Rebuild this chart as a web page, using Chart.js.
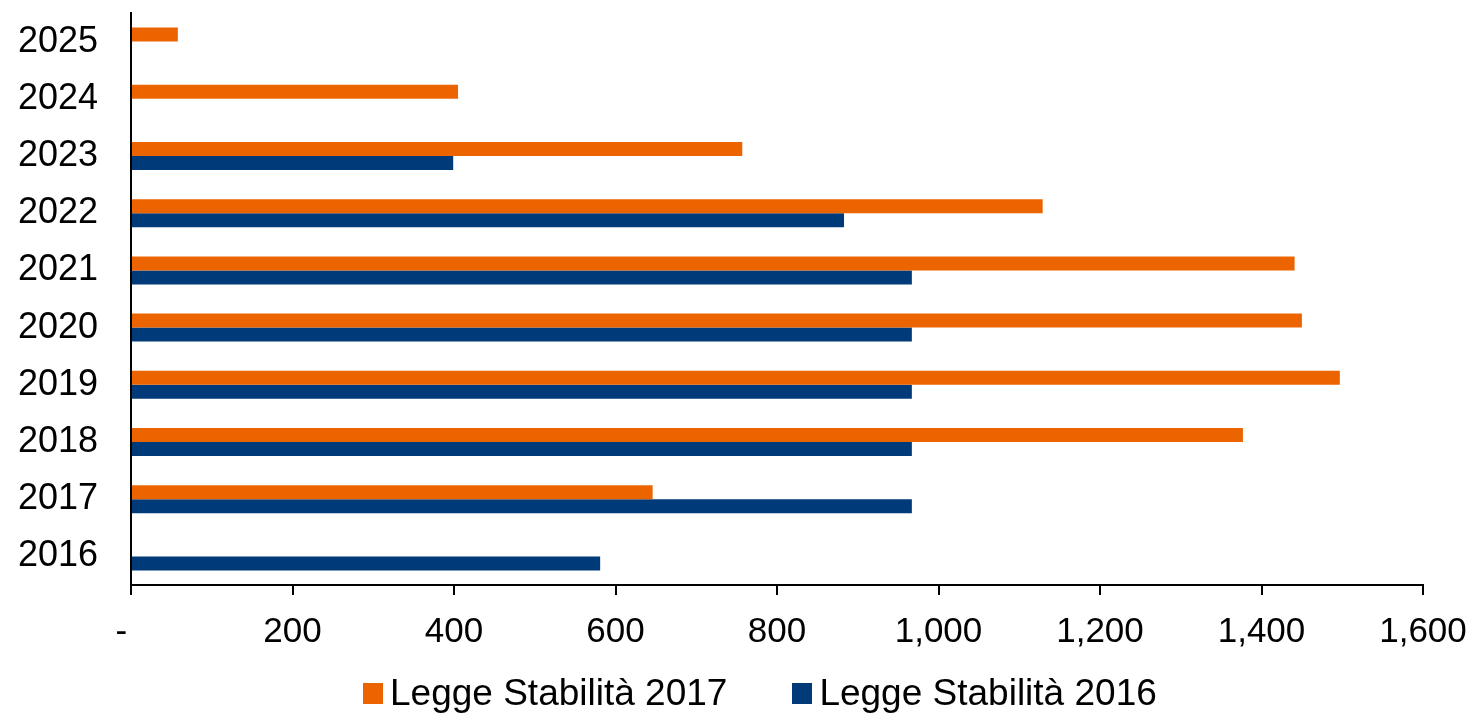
<!DOCTYPE html>
<html lang="it">
<head>
    <meta charset="UTF-8">
    <title>Legge Stabilità 2017 vs 2016</title>
    <script src="https://cdn.jsdelivr.net/npm/chart.js"></script>
    <style>
        html, body { margin: 0; padding: 0; background: #fff; }
        #wrap { position: relative; width: 1474px; height: 715px; }
        #legend {
            position: absolute; left: 363px; top: 672px;
            display: flex; align-items: center;
            font-family: 'Liberation Sans', Arial, sans-serif; font-size: 37px; color: #000;
            line-height: 42px; white-space: nowrap;
        }
        #legend .item { display: flex; align-items: center; margin-right: 65px; }
        #legend .box { width: 20px; height: 21px; margin-right: 7px; }
    </style>
</head>
<body>
    <div id="wrap">
        <canvas id="barChart"></canvas>
        <div id="legend"></div>
    </div>
    <script>
        // data
        const years = ['2025', '2024', '2023', '2022', '2021', '2020', '2019', '2018', '2017', '2016'];
        const legge2017 = [58, 405, 757, 1129, 1441, 1450, 1497, 1377, 646, null];
        const legge2016 = [null, null, 399, 883, 967, 967, 967, 967, 967, 581];
        const xTickLabels = ['-  ', '200', '400', '600', '800', '1,000', '1,200', '1,400', '1,600'];

        const FONT = 'Liberation Sans, Arial, sans-serif';

        const ctx = document.getElementById('barChart').getContext('2d');
        const chart = new Chart(ctx, {
            type: 'bar',
            data: {
                labels: years,
                datasets: [
                    {
                        label: 'Legge Stabilità 2017',
                        data: legge2017,
                        backgroundColor: '#EB6400'
                    },
                    {
                        label: 'Legge Stabilità 2016',
                        data: legge2016,
                        backgroundColor: '#003A78'
                    }
                ]
            },
            options: {
                indexAxis: 'y',
                responsive: true,
                maintainAspectRatio: false,
                animation: false,
                categoryPercentage: 0.49,
                barPercentage: 1.0,
                layout: { padding: { left: 0, right: 51, top: 13, bottom: 44 } },
                plugins: {
                    tooltip: { enabled: false },
                    legend: { display: false }
                },
                scales: {
                    x: {
                        min: 0,
                        max: 1600,
                        ticks: {
                            stepSize: 200,
                            color: '#000',
                            padding: 16,
                            maxRotation: 0,
                            font: { family: FONT, size: 35 },
                            callback: (value, index) => xTickLabels[index]
                        },
                        grid: {
                            drawOnChartArea: false,
                            drawTicks: true,
                            tickLength: 10,
                            color: '#000',
                            lineWidth: 2
                        },
                        border: { color: '#000', width: 2 },
                        afterFit: (s) => {
                            s.height = 86;
                            s.paddingLeft = 0;
                            s.paddingRight = 0;
                        }
                    },
                    y: {
                        ticks: {
                            color: '#000',
                            padding: 33,
                            font: { family: FONT, size: 36 }
                        },
                        grid: {
                            drawOnChartArea: false,
                            drawTicks: false
                        },
                        border: { color: '#000', width: 2 },
                        afterFit: (s) => {
                            s.width = 131;
                            s.paddingTop = 0;
                            s.paddingBottom = 0;
                        }
                    }
                }
            }
        });

        // legend below the plot, built from the datasets
        const legendEl = document.getElementById('legend');
        chart.data.datasets.forEach(ds => {
            const item = document.createElement('span');
            item.className = 'item';
            const box = document.createElement('span');
            box.className = 'box';
            box.style.background = ds.backgroundColor;
            const txt = document.createElement('span');
            txt.textContent = ds.label;
            item.appendChild(box);
            item.appendChild(txt);
            legendEl.appendChild(item);
        });
    </script>
</body>
</html>
